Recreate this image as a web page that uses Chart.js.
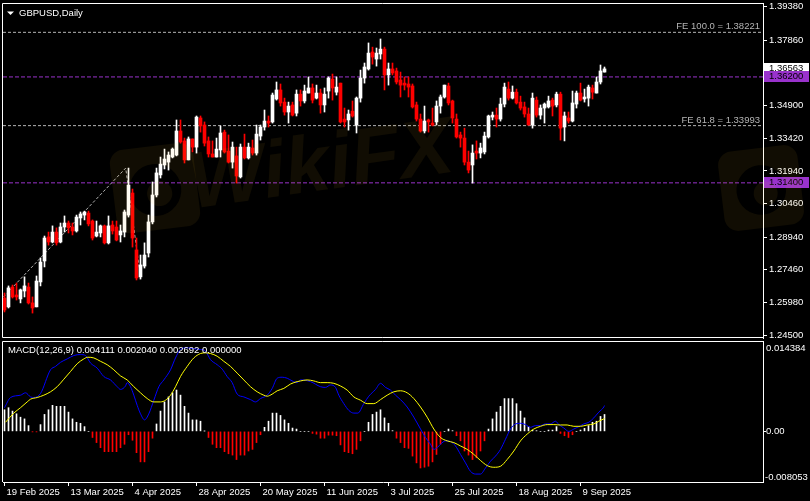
<!DOCTYPE html>
<html>
<head>
<meta charset="utf-8">
<script src="https://cdn.jsdelivr.net/npm/chart.js@4.4.1/dist/chart.umd.min.js"></script>
<style>
    html, body { margin: 0; padding: 0; background: #000; }
    #wrap { position: relative; width: 810px; height: 501px; overflow: hidden; background: #000; }
    #mainBox { position: absolute; left: 0; top: 0; }
    #macdBox { position: absolute; left: 0; top: 338px; }
</style>
</head>
<body>
<div id="wrap">
    <div id="mainBox"><canvas id="priceCanvas" width="810" height="345"></canvas></div>
    <div id="macdBox"><canvas id="macdCanvas" width="810" height="163"></canvas></div>
</div>
<script>
// GBPUSD daily (bar 0 = 19 Feb 2025)
const openPrices = [
    1.2618, 1.2578, 1.2668, 1.2632, 1.2614, 1.2650, 1.2668, 1.2596, 1.2578, 1.2691,
    1.2786, 1.2895, 1.2872, 1.2917, 1.2872, 1.2940, 1.2958, 1.2940, 1.2922, 1.2981,
    1.2994, 1.3003, 1.2967, 1.2899, 1.2913, 1.2945, 1.2868, 1.2949, 1.2940, 1.2904,
    1.2917, 1.2994, 1.3094, 1.2836, 1.2714, 1.2763, 1.2822, 1.2963, 1.3085, 1.3176,
    1.3221, 1.3234, 1.3257, 1.3266, 1.3375, 1.3330, 1.3244, 1.3339, 1.3302, 1.3434,
    1.3402, 1.3330, 1.3271, 1.3257, 1.3289, 1.3370, 1.3284, 1.3234, 1.3262, 1.3167,
    1.3302, 1.3253, 1.3298, 1.3275, 1.3352, 1.3393, 1.3420, 1.3416, 1.3520, 1.3561,
    1.3506, 1.3461, 1.3493, 1.3456, 1.3542, 1.3511, 1.3547, 1.3570, 1.3524, 1.3547,
    1.3493, 1.3556, 1.3610, 1.3551, 1.3592, 1.3429, 1.3425, 1.3465, 1.3402, 1.3524,
    1.3615, 1.3656, 1.3733, 1.3701, 1.3724, 1.3746, 1.3629, 1.3656, 1.3647, 1.3606,
    1.3592, 1.3588, 1.3579, 1.3493, 1.3429, 1.3375, 1.3425, 1.3411, 1.3416, 1.3488,
    1.3529, 1.3579, 1.3511, 1.3429, 1.3357, 1.3343, 1.3234, 1.3221, 1.3284, 1.3275,
    1.3280, 1.3348, 1.3438, 1.3447, 1.3429, 1.3497, 1.3565, 1.3524, 1.3551, 1.3506,
    1.3484, 1.3452, 1.3402, 1.3515, 1.3447, 1.3479, 1.3484, 1.3515, 1.3493, 1.3542,
    1.3393, 1.3434, 1.3420, 1.3497, 1.3547, 1.3520, 1.3524, 1.3570, 1.3547, 1.3597,
    1.3642
];
const highPrices = [
    1.2641, 1.2673, 1.2677, 1.2686, 1.2659, 1.2714, 1.2686, 1.2623, 1.2718, 1.2800,
    1.2899, 1.2917, 1.2945, 1.2936, 1.2958, 1.2990, 1.2967, 1.2958, 1.2994, 1.3008,
    1.3012, 1.3012, 1.2972, 1.2967, 1.2949, 1.2949, 1.2990, 1.2967, 1.2967, 1.2949,
    1.3017, 1.3207, 1.3112, 1.2890, 1.2813, 1.2868, 1.2994, 1.3144, 1.3207, 1.3257,
    1.3293, 1.3280, 1.3298, 1.3425, 1.3425, 1.3343, 1.3348, 1.3339, 1.3443, 1.3443,
    1.3416, 1.3348, 1.3330, 1.3343, 1.3398, 1.3379, 1.3357, 1.3325, 1.3302, 1.3316,
    1.3361, 1.3320, 1.3334, 1.3402, 1.3402, 1.3470, 1.3443, 1.3547, 1.3597, 1.3588,
    1.3524, 1.3506, 1.3506, 1.3561, 1.3561, 1.3583, 1.3620, 1.3588, 1.3583, 1.3565,
    1.3570, 1.3620, 1.3633, 1.3620, 1.3592, 1.3479, 1.3470, 1.3511, 1.3529, 1.3651,
    1.3683, 1.3774, 1.3755, 1.3751, 1.3792, 1.3755, 1.3683, 1.3683, 1.3660, 1.3642,
    1.3620, 1.3620, 1.3588, 1.3506, 1.3452, 1.3488, 1.3429, 1.3479, 1.3511, 1.3538,
    1.3583, 1.3592, 1.3515, 1.3452, 1.3370, 1.3388, 1.3284, 1.3312, 1.3330, 1.3320,
    1.3370, 1.3447, 1.3461, 1.3479, 1.3524, 1.3592, 1.3597, 1.3579, 1.3565, 1.3533,
    1.3506, 1.3479, 1.3547, 1.3529, 1.3493, 1.3502, 1.3533, 1.3524, 1.3551, 1.3551,
    1.3461, 1.3461, 1.3556, 1.3556, 1.3592, 1.3565, 1.3583, 1.3583, 1.3620, 1.3674,
    1.3665
];
const lowPrices = [
    1.2555, 1.2573, 1.2618, 1.2609, 1.2596, 1.2623, 1.2591, 1.2550, 1.2578, 1.2673,
    1.2759, 1.2858, 1.2868, 1.2858, 1.2868, 1.2917, 1.2913, 1.2904, 1.2917, 1.2949,
    1.2972, 1.2945, 1.2881, 1.2895, 1.2895, 1.2863, 1.2863, 1.2908, 1.2877, 1.2872,
    1.2895, 1.2985, 1.2849, 1.2700, 1.2704, 1.2754, 1.2804, 1.2954, 1.3076, 1.3162,
    1.3203, 1.3198, 1.3253, 1.3262, 1.3320, 1.3230, 1.3244, 1.3280, 1.3275, 1.3370,
    1.3307, 1.3257, 1.3257, 1.3257, 1.3257, 1.3275, 1.3230, 1.3207, 1.3139, 1.3162,
    1.3248, 1.3248, 1.3266, 1.3266, 1.3334, 1.3379, 1.3393, 1.3411, 1.3515, 1.3488,
    1.3447, 1.3411, 1.3443, 1.3443, 1.3488, 1.3502, 1.3547, 1.3502, 1.3520, 1.3456,
    1.3461, 1.3524, 1.3515, 1.3538, 1.3411, 1.3393, 1.3379, 1.3438, 1.3366, 1.3506,
    1.3592, 1.3651, 1.3678, 1.3669, 1.3701, 1.3561, 1.3583, 1.3629, 1.3588, 1.3529,
    1.3561, 1.3529, 1.3479, 1.3420, 1.3370, 1.3366, 1.3370, 1.3398, 1.3402, 1.3456,
    1.3524, 1.3493, 1.3411, 1.3343, 1.3302, 1.3221, 1.3185, 1.3139, 1.3248, 1.3253,
    1.3271, 1.3343, 1.3425, 1.3393, 1.3420, 1.3484, 1.3515, 1.3520, 1.3497, 1.3470,
    1.3438, 1.3402, 1.3388, 1.3438, 1.3429, 1.3411, 1.3479, 1.3443, 1.3484, 1.3334,
    1.3330, 1.3411, 1.3416, 1.3479, 1.3511, 1.3506, 1.3488, 1.3520, 1.3547, 1.3588,
    1.3642
];
const closePrices = [
    1.2564, 1.2664, 1.2623, 1.2623, 1.2655, 1.2673, 1.2596, 1.2573, 1.2695, 1.2781,
    1.2890, 1.2872, 1.2917, 1.2868, 1.2940, 1.2958, 1.2936, 1.2922, 1.2985, 1.2999,
    1.3008, 1.2954, 1.2890, 1.2917, 1.2945, 1.2868, 1.2945, 1.2922, 1.2881, 1.2922,
    1.3008, 1.3130, 1.2890, 1.2709, 1.2768, 1.2813, 1.2963, 1.3085, 1.3185, 1.3225,
    1.3248, 1.3266, 1.3293, 1.3375, 1.3325, 1.3244, 1.3339, 1.3302, 1.3438, 1.3398,
    1.3320, 1.3271, 1.3257, 1.3293, 1.3366, 1.3280, 1.3234, 1.3302, 1.3171, 1.3302,
    1.3253, 1.3302, 1.3275, 1.3361, 1.3393, 1.3420, 1.3411, 1.3538, 1.3561, 1.3502,
    1.3461, 1.3488, 1.3447, 1.3542, 1.3511, 1.3556, 1.3570, 1.3515, 1.3547, 1.3493,
    1.3542, 1.3615, 1.3570, 1.3574, 1.3416, 1.3416, 1.3452, 1.3443, 1.3524, 1.3615,
    1.3665, 1.3728, 1.3710, 1.3728, 1.3746, 1.3629, 1.3656, 1.3638, 1.3597, 1.3583,
    1.3583, 1.3574, 1.3484, 1.3429, 1.3375, 1.3420, 1.3416, 1.3402, 1.3488, 1.3529,
    1.3583, 1.3502, 1.3434, 1.3348, 1.3343, 1.3234, 1.3198, 1.3275, 1.3275, 1.3298,
    1.3352, 1.3443, 1.3447, 1.3429, 1.3497, 1.3574, 1.3524, 1.3551, 1.3502, 1.3479,
    1.3452, 1.3402, 1.3524, 1.3447, 1.3479, 1.3497, 1.3511, 1.3488, 1.3542, 1.3388,
    1.3443, 1.3420, 1.3502, 1.3547, 1.3515, 1.3529, 1.3574, 1.3551, 1.3597, 1.3647,
    1.36563
];

const dateLabels = ['19 Feb 2025', '13 Mar 2025', '4 Apr 2025', '28 Apr 2025', '20 May 2025',
    '11 Jun 2025', '3 Jul 2025', '25 Jul 2025', '18 Aug 2025', '9 Sep 2025'];
const dateBars = [0, 16, 32, 48, 64, 80, 96, 112, 128, 144];

const priceTicks = [1.39380, 1.37860, 1.34900, 1.33420, 1.31940, 1.30460, 1.28940, 1.27460, 1.25980, 1.24500];
const priceRange = [1.2437, 1.3955];

// horizontal lines and the fibo expansion
const hLevels = [1.36200, 1.31400];
const feLevels = [1.38221, 1.33993];
const feLabels = ['FE 100.0 = 1.38221', 'FE 61.8 = 1.33993'];
const feBars = [-0.25, 30.3, 34];
const fePrices = [1.2623, 1.3207, 1.2713];

// MACD(12,26,9)
const macdHist = [
    0.00344, 0.00377, 0.00323, 0.00280, 0.00226, 0.00199, 0.00092, -0.00005, -0.00005, 0.00108,
    0.00270, 0.00344, 0.00415, 0.00399, 0.00399, 0.00399, 0.00307, 0.00199, 0.00145, 0.00129,
    0.00076, 0, -0.00097, -0.00178, -0.00259, -0.00323, -0.00323, -0.00323, -0.00323, -0.00259,
    -0.00205, -0.00053, -0.00141, -0.00339, -0.00485, -0.00485, -0.00323, -0.00108, 0.00118, 0.00323,
    0.00469, 0.00549, 0.00614, 0.00658, 0.00577, 0.00399, 0.00291, 0.00183, 0.00183, 0.00162,
    0.00005, -0.00097, -0.00205, -0.00259, -0.00259, -0.00323, -0.00356, -0.00377, -0.00448, -0.00377,
    -0.00377, -0.00312, -0.00286, -0.00178, -0.00053, 0.00065, 0.00162, 0.00291, 0.00291, 0.00254,
    0.00183, 0.00129, 0.00053, 0.00037, 0, 0, 0, -0.00032, -0.00044, -0.00108,
    -0.00108, -0.00060, -0.00060, -0.00069, -0.00215, -0.00323, -0.00339, -0.00356, -0.00286, -0.00150,
    0, 0.00145, 0.00270, 0.00307, 0.00344, 0.00215, 0.00129, 0.00011, -0.00108, -0.00178,
    -0.00259, -0.00270, -0.00393, -0.00501, -0.00582, -0.00570, -0.00554, -0.00485, -0.00367, -0.00205,
    0, 0.00037, 0.00011, -0.00069, -0.00150, -0.00312, -0.00377, -0.00448, -0.00420, -0.00312,
    -0.00150, 0.00037, 0.00199, 0.00307, 0.00399, 0.00522, 0.00522, 0.00522, 0.00441, 0.00323,
    0.00215, 0.00076, 0.00021, 0.00011, 0, 0, 0.00021, 0.00021, 0.00076, -0.00032,
    -0.00069, -0.00097, -0.00053, 0, 0.00021, 0.00048, 0.00092, 0.00145, 0.00162, 0.00238,
    0.002692
];
const mainBars = [0, 1.5, 4, 5.25, 6.5, 7.33, 9, 11.5, 12.75, 14, 15.67, 17.33, 19, 20.25, 21.5, 23.17,
    24.83, 26.5, 28.17, 29, 30.25, 30.67, 31.5, 32.33, 33.17, 34, 35, 36.08, 37.33, 38.58, 39.83, 41.5,
    42.75, 44, 45.67, 47.33, 49, 50.25, 51.5, 53.17, 54.42, 55.67, 56.92, 58.17, 59.83, 61.5, 62.75, 64,
    65.67, 66.92, 68.17, 69.42, 70.67, 71.92, 73.17, 74, 76.5, 79, 80.25, 81.5, 82.75, 83.58, 84.83,
    86.08, 87.33, 88.33, 89.83, 91.08, 92.75, 94, 95.25, 96.5, 97.75, 99, 100.67, 102.33, 104, 105.25,
    106.5, 107.33, 108.17, 109, 110.25, 111.5, 112.75, 114, 115.25, 116.5, 117.75, 119, 120.25, 121.5,
    122.75, 124, 125.25, 126.5, 127.75, 129, 130.25, 131.5, 132.75, 134, 135.25, 136.5, 137.75, 138.58,
    139.83, 141.08, 142.33, 143.58, 144.83, 146.08, 147.33, 148.58, 149.83, 150];
const mainVals = [0.00377, 0.00539, 0.00576, 0.00614, 0.00549, 0.00539, 0.00603, 0.00980, 0.01034,
    0.01099, 0.01153, 0.01207, 0.01223, 0.01207, 0.01088, 0.01007, 0.00873, 0.00819, 0.00711, 0.00668,
    0.00722, 0.00776, 0.00711, 0.00576, 0.00415, 0.00280, 0.00183, 0.00280, 0.00496, 0.00711, 0.00819,
    0.00980, 0.01169, 0.01304, 0.01331, 0.01314, 0.01304, 0.01277, 0.01142, 0.01061, 0.00991, 0.00873,
    0.00776, 0.00593, 0.00549, 0.00506, 0.00469, 0.00523, 0.00576, 0.00684, 0.00846, 0.00862, 0.00846,
    0.00803, 0.00776, 0.00819, 0.00792, 0.00711, 0.00700, 0.00738, 0.00700, 0.00576, 0.00442, 0.00334,
    0.00291, 0.00291, 0.00442, 0.00560, 0.00668, 0.00765, 0.00700, 0.00657, 0.00576, 0.00506, 0.00388,
    0.00226, 0.00038, -0.00097, -0.00205, -0.00286, -0.00259, -0.00205, -0.00151, -0.00162, -0.00232,
    -0.00366, -0.00501, -0.00636, -0.00679, -0.00679, -0.00582, -0.00474, -0.00393, -0.00286, -0.00124,
    0.00038, 0.00119, 0.00129, 0.00108, 0.00065, 0.00092, 0.00092, 0.00119, 0.00119, 0.00162, 0.00108,
    0.00054, 0, 0.00038, 0.00075, 0.00119, 0.00145, 0.00215, 0.00307, 0.00388, 0.004111];
const signalBars = [0.25, 2.33, 4, 5.67, 6.5, 8.17, 9.83, 11.5, 13.17, 14.83, 16.5, 18.17, 19.83, 20.83,
    22.33, 24, 25.67, 27.33, 29, 30.67, 32.33, 34, 35.67, 37.33, 39, 40.25, 41.5, 42.75, 44, 45.67, 47.33,
    49, 50.25, 51.5, 53.17, 54.83, 56.5, 58.17, 59.83, 61.5, 63.17, 64.83, 65.67, 66.92, 68.17, 69.83,
    71.5, 73.17, 74, 75.67, 77.33, 79, 80.67, 82.33, 84, 85.67, 87.33, 89, 90.67, 92.33, 94, 95.67, 97.33,
    99, 100.67, 102.33, 104, 105.67, 107.33, 109, 110.67, 112.33, 114, 115.67, 117.33, 119, 120.67,
    122.33, 124, 125.67, 127.33, 129, 130.67, 132.33, 134, 135.67, 137.33, 139, 140.67, 142.33, 144,
    145.67, 147.33, 148.58, 149.83, 150];
const signalVals = [0.00145, 0.00291, 0.00377, 0.00469, 0.00512, 0.00539, 0.00576, 0.00630, 0.00711,
    0.00830, 0.00953, 0.01077, 0.01153, 0.01180, 0.01169, 0.01115, 0.01061, 0.00980, 0.00883, 0.00819,
    0.00711, 0.00614, 0.00523, 0.00469, 0.00469, 0.00496, 0.00576, 0.00711, 0.00873, 0.01034, 0.01169,
    0.01239, 0.01250, 0.01239, 0.01196, 0.01115, 0.01034, 0.00927, 0.00819, 0.00711, 0.00630, 0.00576,
    0.00560, 0.00593, 0.00646, 0.00684, 0.00754, 0.00792, 0.00803, 0.00819, 0.00803, 0.00776, 0.00776,
    0.00765, 0.00722, 0.00657, 0.00549, 0.00496, 0.00442, 0.00442, 0.00506, 0.00576, 0.00630, 0.00646,
    0.00614, 0.00523, 0.00388, 0.00226, 0.00038, -0.00097, -0.00151, -0.00178, -0.00232, -0.00286,
    -0.00366, -0.00463, -0.00544, -0.00571, -0.00555, -0.00447, -0.00312, -0.00151, -0.00043, 0.00038,
    0.00081, 0.00108, 0.00108, 0.00102, 0.00102, 0.00081, 0.00081, 0.00102, 0.00119, 0.00162, 0.00199,
    0.002040];
const macdRange = [-0.008053, 0.014384];
const macdTitle = 'MACD(12,26,9) 0.004111 0.002040 0.002692 0.000000';
const chartTitle = 'GBPUSD,Daily';
const watermarkText = 'WikiFX';

// ---- look
const FONT_FAMILY = '"Liberation Sans", Arial, sans-serif';
const FONT_SIZE = 9.5;
const FONT = FONT_SIZE + 'px ' + FONT_FAMILY;
const PURPLE = '#9932cc';
const GREY = '#b4b4b4';
const WATERMARK = 'rgba(255, 200, 40, 0.065)';
const X_MIN = -0.375, X_MAX = 189.625;   // 4px per bar

const bars = openPrices.map((_, i) => i);
const candleColors = bars.map(i => closePrices[i] >= openPrices[i] ? '#ffffff' : '#ff0000');
const histColors = macdHist.map(v => v >= 0 ? '#ffffff' : '#ff0000');

function across(value) {
    return [{ x: X_MIN, y: value }, { x: X_MAX, y: value }];
}

function lineSet(data, color, dash, order) {
    return {
        type: 'line', data: data, borderColor: color, borderWidth: 1, borderDash: dash,
        pointRadius: 0, fill: false, order: order
    };
}

// faint logo badge of the watermark
function badge(ctx, cx, cy, size, angle) {
    const r = 14, h = size / 2;
    ctx.save();
    ctx.translate(cx, cy);
    ctx.rotate(angle);
    ctx.beginPath();
    ctx.moveTo(-h + r, -h);
    ctx.arcTo(h, -h, h, h, r);
    ctx.arcTo(h, h, -h, h, r);
    ctx.arcTo(-h, h, -h, -h, r);
    ctx.arcTo(-h, -h, h, -h, r);
    ctx.closePath();
    ctx.arc(0, 2, h * 0.62, 0, Math.PI * 2);
    ctx.fill('evenodd');
    ctx.beginPath();
    ctx.arc(4, 6, h * 0.3, 0, Math.PI * 2);
    ctx.fill();
    ctx.restore();
}

// frame, title, fibo labels, price tags on the axis
const mainOverlay = {
    id: 'mainOverlay',
    afterDraw(chart) {
        const { ctx, chartArea: a, scales: { y } } = chart;
        ctx.save();
        ctx.strokeStyle = '#ffffff';
        ctx.lineWidth = 1;
        ctx.beginPath();
        ctx.moveTo(a.left - 0.5, a.bottom - 0.5);
        ctx.lineTo(a.left - 0.5, a.top + 0.5);
        ctx.lineTo(a.right, a.top + 0.5);
        ctx.moveTo(a.left - 0.5, a.bottom - 0.5);
        ctx.lineTo(a.right, a.bottom - 0.5);
        ctx.stroke();

        // ▼ GBPUSD,Daily
        ctx.fillStyle = '#ffffff';
        ctx.beginPath();
        ctx.moveTo(a.left + 4, a.top + 8.5);
        ctx.lineTo(a.left + 11, a.top + 8.5);
        ctx.lineTo(a.left + 7.5, a.top + 12);
        ctx.closePath();
        ctx.fill();
        ctx.font = FONT;
        ctx.textBaseline = 'middle';
        ctx.fillText(chartTitle, a.left + 16, a.top + 10.5);

        ctx.fillStyle = GREY;
        ctx.textAlign = 'right';
        ctx.textBaseline = 'bottom';
        feLevels.forEach((v, k) => ctx.fillText(feLabels[k], a.right - 3, y.getPixelForValue(v) - 1));

        ctx.textAlign = 'left';
        ctx.textBaseline = 'middle';
        const tag = (value, bg, fg, txt) => {
            const py = Math.round(y.getPixelForValue(value)) - 1;
            ctx.fillStyle = bg;
            ctx.fillRect(a.right + 1, py - 5, 45, 11);
            ctx.fillStyle = fg;
            ctx.fillText(txt, a.right + 6, py + 0.5);
        };
        const last = closePrices[closePrices.length - 1];
        tag(last, '#ffffff', '#000000', last.toFixed(5));
        hLevels.forEach(v => tag(v, PURPLE, '#000000', v.toFixed(5)));

        // watermark on top, like the terminal screenshot
        ctx.fillStyle = WATERMARK;
        badge(ctx, a.left + 152, a.top + 185, 84, -0.12);
        badge(ctx, a.right - 2, a.top + 185, 80, -0.12);
        ctx.translate(a.left + 318, a.top + 165);
        ctx.rotate(-0.14);
        ctx.font = 'italic bold 80px ' + FONT_FAMILY;
        ctx.textAlign = 'center';
        ctx.fillText(watermarkText, 0, 0);
        ctx.restore();
    }
};

const macdOverlay = {
    id: 'macdOverlay',
    afterDraw(chart) {
        const { ctx, chartArea: a } = chart;
        ctx.save();
        ctx.strokeStyle = '#ffffff';
        ctx.lineWidth = 1;
        ctx.beginPath();
        ctx.moveTo(a.left - 0.5, a.bottom);
        ctx.lineTo(a.left - 0.5, a.top + 0.5);
        ctx.lineTo(a.right, a.top + 0.5);
        ctx.stroke();

        ctx.font = FONT;
        ctx.fillStyle = '#ffffff';
        ctx.textBaseline = 'middle';
        ctx.fillText(macdTitle, a.left + 5, a.top + 9.5);
        ctx.fillText(macdRange[1].toFixed(6), a.right + 3, a.top + 7);
        ctx.fillText(macdRange[0].toFixed(6), a.right + 2, a.bottom - 5);
        ctx.restore();
    }
};

const tickFont = { family: FONT_FAMILY, size: FONT_SIZE };

new Chart(document.getElementById('priceCanvas'), {
    type: 'bar',
    data: {
        datasets: [
            lineSet(across(hLevels[0]), PURPLE, [4, 2], 10),
            lineSet(across(hLevels[1]), PURPLE, [4, 2], 10),
            lineSet(across(feLevels[0]), GREY, [3, 2], 10),
            lineSet(across(feLevels[1]), GREY, [3, 2], 10),
            lineSet(feBars.map((b, k) => ({ x: b, y: fePrices[k] })), GREY, [3, 2], 10),
            {
                type: 'bar',
                data: bars.map(i => ({ x: i, y: [lowPrices[i], highPrices[i]] })),
                backgroundColor: candleColors, barThickness: 1, grouped: false, order: 2
            },
            {
                type: 'bar',
                data: bars.map(i => ({ x: i, y: [openPrices[i], closePrices[i]] })),
                backgroundColor: candleColors, barThickness: 3, minBarLength: 1, grouped: false, order: 1
            }
        ]
    },
    options: {
        responsive: false,
        animation: false,
        events: [],
        layout: { padding: { left: 3, top: 3, right: 0, bottom: 7 } },
        plugins: { legend: { display: false }, tooltip: { enabled: false } },
        scales: {
            x: { type: 'linear', min: X_MIN, max: X_MAX, offset: false, display: false },
            y: {
                type: 'linear', position: 'right', min: priceRange[0], max: priceRange[1],
                afterBuildTicks: s => { s.ticks = priceTicks.map(v => ({ value: v })); },
                afterFit: s => { s.width = 47; s.paddingTop = 0; s.paddingBottom = 0; },
                ticks: { color: '#ffffff', font: tickFont, padding: 2, callback: v => v.toFixed(5) },
                grid: { drawOnChartArea: false, color: '#ffffff', tickLength: 4 },
                border: { color: '#ffffff' }
            }
        }
    },
    plugins: [mainOverlay]
});

new Chart(document.getElementById('macdCanvas'), {
    type: 'bar',
    data: {
        datasets: [
            {
                type: 'bar',
                data: bars.map(i => ({ x: i, y: macdHist[i] })),
                backgroundColor: histColors, barThickness: 1, grouped: false, order: 3
            },
            {
                type: 'line', data: mainBars.map((b, k) => ({ x: b, y: mainVals[k] })),
                borderColor: '#0000ff', borderWidth: 1, pointRadius: 0, cubicInterpolationMode: 'monotone', order: 2
            },
            {
                type: 'line', data: signalBars.map((b, k) => ({ x: b, y: signalVals[k] })),
                borderColor: '#ffff00', borderWidth: 1, pointRadius: 0, cubicInterpolationMode: 'monotone', order: 1
            }
        ]
    },
    options: {
        responsive: false,
        animation: false,
        events: [],
        layout: { padding: { left: 3, top: 3, right: 0, bottom: 0 } },
        plugins: { legend: { display: false }, tooltip: { enabled: false } },
        scales: {
            x: {
                type: 'linear', min: X_MIN, max: X_MAX, offset: false,
                afterBuildTicks: s => { s.ticks = dateBars.map(v => ({ value: v })); },
                afterFit: s => { s.height = 19; s.paddingLeft = 0; s.paddingRight = 0; },
                ticks: {
                    color: '#ffffff', font: tickFont, align: 'start', maxRotation: 0, autoSkip: false,
                    padding: 1, labelOffset: 2, callback: (v, idx) => dateLabels[idx]
                },
                grid: { drawOnChartArea: false, offset: false, color: '#ffffff', tickLength: 4 },
                border: { color: '#ffffff' }
            },
            y: {
                type: 'linear', position: 'right', min: macdRange[0], max: macdRange[1],
                afterBuildTicks: s => { s.ticks = [{ value: 0 }]; },
                afterFit: s => { s.width = 47; s.paddingTop = 0; s.paddingBottom = 0; },
                ticks: { color: '#ffffff', font: tickFont, padding: 0, callback: () => '0.00' },
                grid: { drawOnChartArea: false, color: '#ffffff', tickLength: 3 },
                border: { color: '#ffffff' }
            }
        }
    },
    plugins: [macdOverlay]
});
</script>
</body>
</html>
